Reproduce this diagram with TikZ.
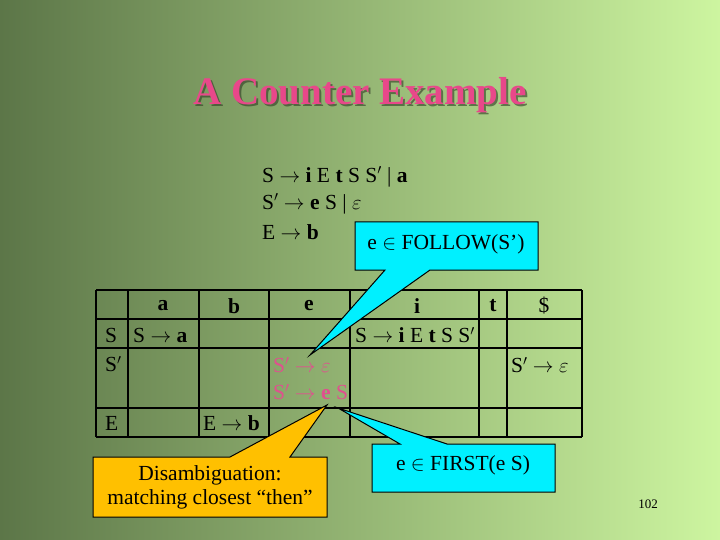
\documentclass[tikz,border=0pt]{standalone}
\usepackage{fontspec}
\setmainfont{Liberation Serif}
\usepackage{amssymb}
\definecolor{bgl}{HTML}{5C7648}
\definecolor{bgr}{HTML}{CDF5A0}
\definecolor{tpink}{HTML}{E8488A}
\definecolor{cpink}{HTML}{E0508E}
\definecolor{cfill}{HTML}{00F0FF}
\definecolor{yfill}{HTML}{FFC000}
\begin{document}
\begin{tikzpicture}[x=1pt,y=-1pt,
  txt/.style={font=\fontsize{21.5}{24}\selectfont,inner sep=0pt},
  cell/.style={txt,anchor=west},
  tl/.style={line width=2.4pt},
  call/.style={draw=black,line width=1pt,fill=cfill}]
\useasboundingbox (0,0) rectangle (720,540);
\shade[left color=bgl, right color=bgr] (0,0) rectangle (720,540);
\node[txt,font=\fontsize{39}{42}\bfseries\selectfont,text=black!50!bgl,opacity=0.6] (tsh) at (362,97) {A Counter Example};
\node[txt,font=\fontsize{39}{42}\bfseries\selectfont,text=tpink] (title) at (360,95) {A Counter Example};
\node[cell] (g1) at (262,177) {S $\rightarrow$ \textbf{i} E \textbf{t} S S$'$ | \textbf{a}};
\node[cell] (g2) at (262,204) {S$'$ $\rightarrow$ \textbf{e} S | $\varepsilon$};
\node[cell] (g3) at (262,232) {E $\rightarrow$ \textbf{b}};
% table
\foreach \x in {96,128,199,269,350,479,507,582} \draw[tl] (\x,290) -- (\x,437);
\foreach \y in {290,319,348,408,437} \draw[tl] (96,\y) -- (582,\y);
\node[txt] (ha) at (163,306) {\textbf{a}};
\node[txt] (hb) at (234,306) {\textbf{b}};
\node[txt] (he) at (309,306) {\textbf{e}};
\node[txt] (hi) at (417,306) {\textbf{i}};
\node[txt] (ht) at (493,306) {\textbf{t}};
\node[txt] (hd) at (544,306) {\$};
\node[cell] (rs) at (105,335) {S};
\node[cell] (rsp) at (105,364) {S$'$};
\node[cell] (re) at (105,423) {E};
\node[cell] (c1) at (133,335) {S $\rightarrow$ \textbf{a}};
\node[cell] (c2) at (355,335) {S $\rightarrow$ \textbf{i} E \textbf{t} S S$'$};
\node[cell,text=cpink] (c3) at (273,365) {S$'$ $\rightarrow$ $\varepsilon$};
\node[cell,text=cpink] (c4) at (273,392) {S$'$ $\rightarrow$ \textbf{e} S};
\node[cell] (c5) at (511,365) {S$'$ $\rightarrow$ $\varepsilon$};
\node[cell] (c6) at (203,423) {E $\rightarrow$ \textbf{b}};
% callouts
\draw[call] (355,222) -- (538,222) -- (538,270) -- (430,270) -- (310,355) -- (385,270) -- (355,270) -- cycle;
\node[txt] (f1) at (446,244) {e $\in$ FOLLOW(S')};
\draw[call] (372,444) -- (400,444) -- (338,408) -- (447,444) -- (555,444) -- (555,492) -- (372,492) -- cycle;
\node[txt] (f2) at (463,465) {e $\in$ FIRST(e S)};
\draw[call,fill=yfill] (93,457) -- (230,457) -- (327,405) -- (290,457) -- (327,457) -- (327,517) -- (93,517) -- cycle;
\node[txt,align=center] (d) at (210,487) {Disambiguation:\\matching closest “then”};
\node[inner sep=0pt,font=\fontsize{13}{14}\selectfont] (pg) at (648,504) {102};
\end{tikzpicture}
\end{document}
